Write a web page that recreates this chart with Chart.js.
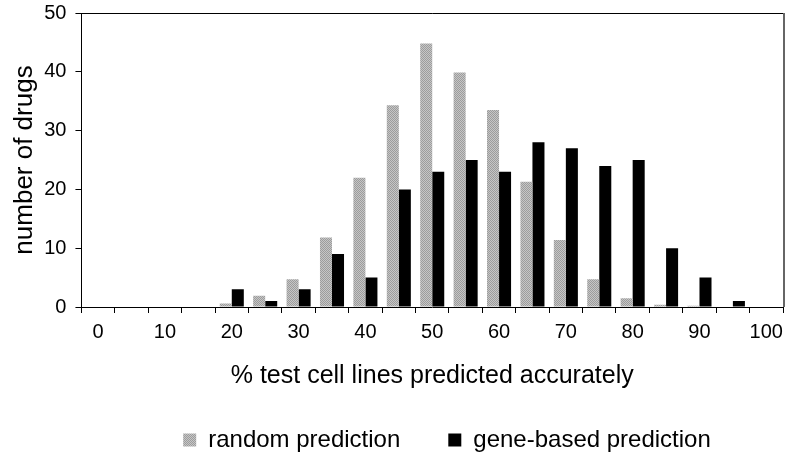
<!DOCTYPE html>
<html>
<head>
<meta charset="utf-8">
<script src="https://cdn.jsdelivr.net/npm/chart.js@4/dist/chart.umd.min.js"></script>
<style>
  html, body { margin: 0; padding: 0; background: #fff; }
  #wrap { width: 800px; height: 464px; position: relative; }
</style>
</head>
<body>
<div id="wrap"><canvas id="chart"></canvas></div>
<script>
// bins: % test cell lines predicted accurately (5% steps)
const bins = ["0", "5", "10", "15", "20", "25", "30", "35", "40", "45", "50",
  "55", "60", "65", "70", "75", "80", "85", "90", "95", "100"];
const randomPred = [0, 0, 0, 0, 0.6, 1.9, 4.7, 11.8, 22, 34.3, 44.8,
  39.9, 33.5, 21.3, 11.4, 4.7, 1.5, 0.4, 0.2, 0, 0];
const geneBased = [0, 0, 0, 0, 3, 1, 3, 9, 5, 20, 23,
  25, 23, 28, 27, 24, 25, 10, 5, 1, 0];
const xTickLabels = ["0", "10", "20", "30", "40", "50", "60", "70", "80", "90", "100"];
const yTicks = [0, 10, 20, 30, 40, 50];

const FONT = "'Liberation Sans', Arial, Helvetica, sans-serif";

// dithered grey, like the printed halftone
function greyPattern() {
  const c = document.createElement("canvas");
  c.width = 2; c.height = 2;
  const g = c.getContext("2d");
  g.fillStyle = "#c6c6c6"; g.fillRect(0, 0, 2, 2);
  g.fillStyle = "#9c9c9c"; g.fillRect(0, 0, 1, 1); g.fillRect(1, 1, 1, 1);
  return g.createPattern(c, "repeat");
}

// top + right frame of the plot box, and legend nudged right like the original
const frame = {
  id: "frame",
  afterLayout(chart) {
    if (chart.legend) {
      chart.legend.left += 51;
      chart.legend.right += 51;
    }
  },
  afterDraw(chart) {
    const { ctx, chartArea: a } = chart;
    ctx.save();
    ctx.strokeStyle = "#000";
    ctx.lineWidth = 1;
    ctx.beginPath();
    ctx.moveTo(a.left, a.top + 0.5);
    ctx.lineTo(a.right, a.top + 0.5);
    ctx.stroke();
    ctx.strokeStyle = "#666";
    ctx.lineWidth = 2;
    ctx.beginPath();
    ctx.moveTo(a.right + 1, a.top);
    ctx.lineTo(a.right + 1, a.bottom);
    ctx.stroke();
    ctx.restore();
  }
};

new Chart(document.getElementById("chart"), {
  type: "bar",
  data: {
    labels: bins,
    datasets: [
      { label: "random prediction", data: randomPred, backgroundColor: greyPattern(),
        borderWidth: 0, categoryPercentage: 0.72, barPercentage: 1.0 },
      { label: "gene-based prediction", data: geneBased, backgroundColor: "#000",
        borderWidth: 0, categoryPercentage: 0.72, barPercentage: 1.0 }
    ]
  },
  options: {
    responsive: true,
    maintainAspectRatio: false,
    animation: false,
    layout: { padding: { left: 9, right: 17, top: 0, bottom: 2 } },
    plugins: {
      tooltip: { enabled: false },
      legend: {
        position: "bottom",
        labels: {
          color: "#000",
          font: { family: FONT, size: 24 },
          boxWidth: 13,
          boxHeight: 13,
          padding: 48
        }
      }
    },
    scales: {
      x: {
        grid: { display: true, drawOnChartArea: false, offset: true, tickLength: 6, color: "#000" },
        border: { display: true, color: "#000", width: 1 },
        ticks: {
          autoSkip: false, maxRotation: 0, color: "#000", padding: 7,
          font: { family: FONT, size: 20 },
          callback: function (v, i) {
            const lab = bins[i];
            return xTickLabels.includes(lab) ? lab : "";
          }
        },
        title: {
          display: true, text: "% test cell lines predicted accurately", color: "#000",
          font: { family: FONT, size: 25 }, padding: { top: 10, bottom: -11 }
        }
      },
      y: {
        min: 0, max: 50,
        afterBuildTicks: (axis) => { axis.ticks = yTicks.map(v => ({ value: v })); },
        grid: { display: true, drawOnChartArea: false, tickLength: 6, color: "#000" },
        border: { display: true, color: "#000", width: 1 },
        ticks: { color: "#000", padding: 9, font: { family: FONT, size: 20, lineHeight: 0.4 } },
        title: {
          display: true, text: "number of drugs", color: "#000",
          font: { family: FONT, size: 26 }, padding: { top: 0, bottom: -5 }
        }
      }
    }
  },
  plugins: [frame]
});
</script>
</body>
</html>
